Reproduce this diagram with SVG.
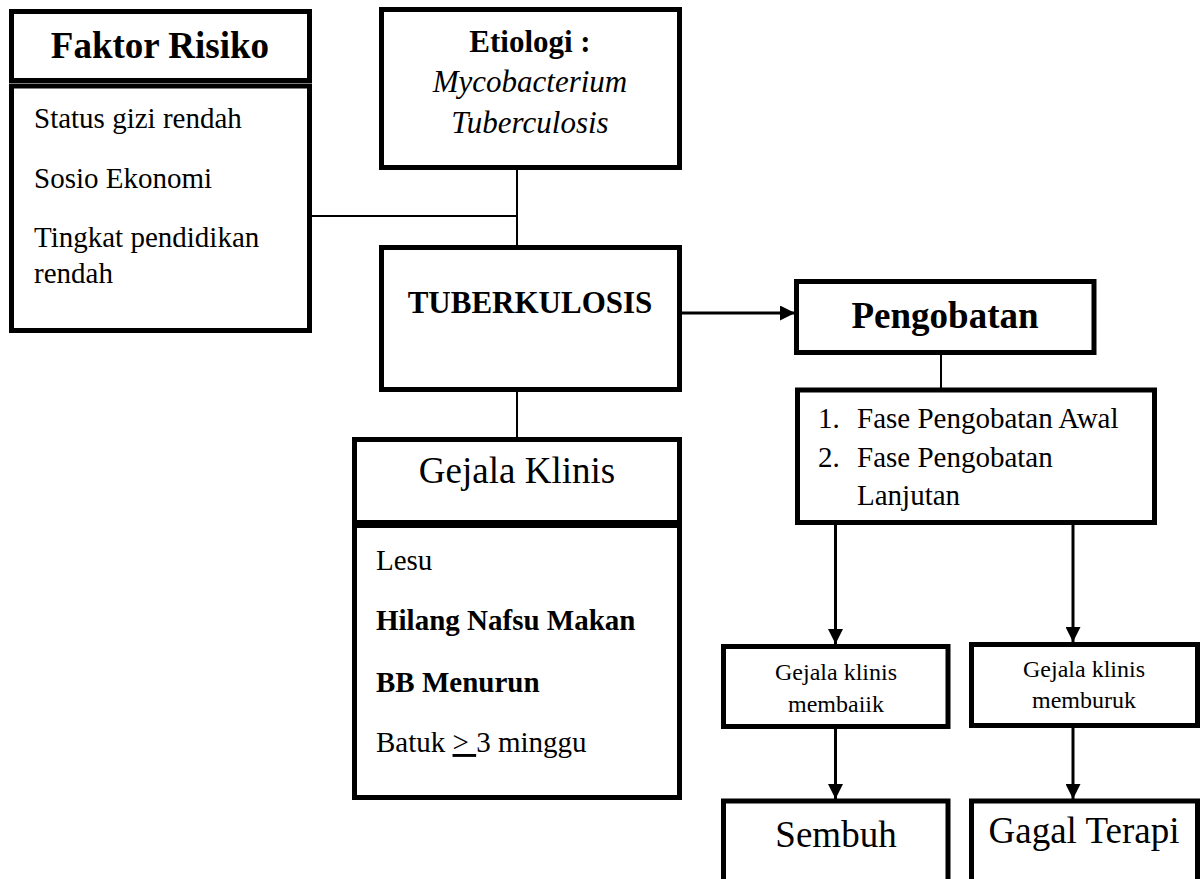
<svg xmlns="http://www.w3.org/2000/svg" width="1202" height="879" viewBox="0 0 1202 879">
<style>
.box{fill:#fff;stroke:#000;stroke-width:5}
.t{font-family:"Liberation Serif","Times New Roman",serif;fill:#000}
.b{font-weight:bold}
.i{font-style:italic}
.mid{text-anchor:middle}
.ln{stroke:#000;stroke-width:2;fill:none}
.ar{stroke:#000;stroke-width:3;fill:none}
</style>
<defs>
<marker id="ah" markerUnits="userSpaceOnUse" markerWidth="15" markerHeight="15" refX="15" refY="7.5" orient="auto">
<path d="M0,0 L15,7.5 L0,15 Z" fill="#000"/>
</marker>
</defs>
<rect width="1202" height="879" fill="#fff"/>
<g id="connectors">
<line class="ln" x1="517" y1="170" x2="517" y2="246"/>
<line class="ln" x1="310" y1="216" x2="517" y2="216"/>
<line class="ln" x1="517" y1="392" x2="517" y2="438"/>
<line class="ar" x1="682" y1="313" x2="795" y2="313" marker-end="url(#ah)"/>
<line class="ln" x1="941" y1="354" x2="941" y2="388"/>
<line class="ar" x1="835.5" y1="524" x2="835.5" y2="644" marker-end="url(#ah)"/>
<line class="ar" x1="1073" y1="524" x2="1073" y2="642" marker-end="url(#ah)"/>
<line class="ar" x1="835.5" y1="729" x2="835.5" y2="799" marker-end="url(#ah)"/>
<line class="ar" x1="1073" y1="728" x2="1073" y2="799" marker-end="url(#ah)"/>
</g>
<g id="faktor-risiko">
<rect class="box" x="11.5" y="11.5" width="298" height="69"/>
<rect class="box" x="11.5" y="86" width="298" height="244.5"/>
<text class="t b mid" x="160" y="58" font-size="37">Faktor Risiko</text>
<text class="t" x="34" y="128" font-size="29">Status gizi rendah</text>
<text class="t" x="34" y="188" font-size="29">Sosio Ekonomi</text>
<text class="t" x="34" y="247" font-size="29">Tingkat pendidikan</text>
<text class="t" x="34" y="283" font-size="29">rendah</text>
</g>
<g id="etiologi">
<rect class="box" x="381.5" y="9.5" width="298" height="158"/>
<text class="t b mid" x="530" y="52" font-size="31">Etiologi :</text>
<text class="t i mid" x="530" y="92" font-size="31">Mycobacterium</text>
<text class="t i mid" x="530" y="133" font-size="31">Tuberculosis</text>
</g>
<g id="tuberkulosis">
<rect class="box" x="381.5" y="247.5" width="298" height="142"/>
<text class="t b mid" x="530" y="313" font-size="31">TUBERKULOSIS</text>
</g>
<g id="gejala-klinis">
<rect class="box" x="354.5" y="439.5" width="325" height="83"/>
<rect class="box" x="354.5" y="525.5" width="325" height="272"/>
<text class="t mid" x="517" y="483" font-size="37">Gejala Klinis</text>
<text class="t" x="376" y="570" font-size="29">Lesu</text>
<text class="t b" x="376" y="630" font-size="29">Hilang Nafsu Makan</text>
<text class="t b" x="376" y="692" font-size="29">BB Menurun</text>
<text class="t" x="376" y="752" font-size="29">Batuk <tspan text-decoration="underline">&gt; </tspan>3 minggu</text>
</g>
<g id="pengobatan">
<rect class="box" x="796.5" y="281.5" width="297.5" height="71"/>
<text class="t b mid" x="945" y="328" font-size="37">Pengobatan</text>
</g>
<g id="fase">
<rect class="box" x="797.5" y="390" width="357" height="132.5"/>
<text class="t" x="818" y="428" font-size="29">1.</text>
<text class="t" x="857" y="428" font-size="29">Fase Pengobatan Awal</text>
<text class="t" x="818" y="467" font-size="29">2.</text>
<text class="t" x="857" y="467" font-size="29">Fase Pengobatan</text>
<text class="t" x="857" y="505" font-size="29">Lanjutan</text>
</g>
<g id="membaik">
<rect class="box" x="723.5" y="646.5" width="224.5" height="80"/>
<text class="t mid" x="836" y="680" font-size="24">Gejala klinis</text>
<text class="t mid" x="836" y="712" font-size="24">membaiik</text>
</g>
<g id="memburuk">
<rect class="box" x="971.5" y="644.5" width="226" height="81"/>
<text class="t mid" x="1084" y="677" font-size="24">Gejala klinis</text>
<text class="t mid" x="1084" y="708" font-size="24">memburuk</text>
</g>
<g id="sembuh">
<rect class="box" x="723.5" y="801" width="224.5" height="100"/>
<text class="t mid" x="836" y="847" font-size="37">Sembuh</text>
</g>
<g id="gagal-terapi">
<rect class="box" x="971.5" y="801" width="226" height="100"/>
<text class="t mid" x="1084" y="843" font-size="37">Gagal Terapi</text>
</g>
</svg>
